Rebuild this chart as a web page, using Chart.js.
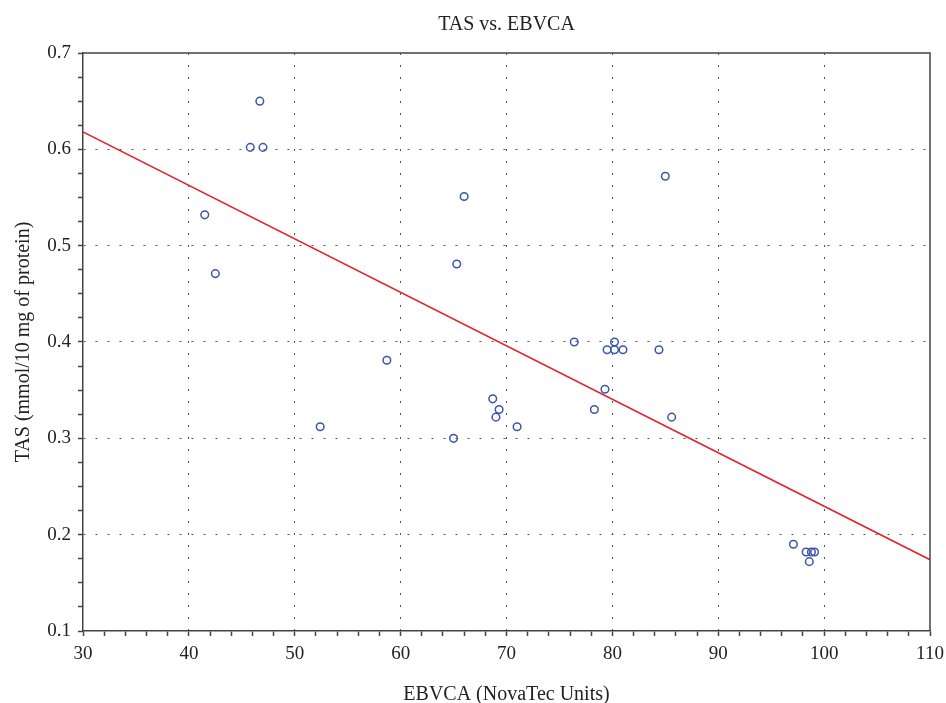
<!doctype html>
<html>
<head>
  <meta charset="utf-8">
  <title>TAS vs. EBVCA</title>
  <script src="https://cdn.jsdelivr.net/npm/chart.js@4"></script>
  <style>body{margin:0;background:#fff}canvas{display:block}</style>
</head>
<body>
  <canvas id="chart" width="946" height="703"></canvas>
  <script>
    // observed values (x = EBVCA, y = TAS)
    const ebvca = [46.7, 45.8, 47.0, 41.5, 42.5, 52.4, 58.7, 66.0, 65.3, 65.0, 68.7, 69.3, 69.0, 71.0, 76.4,
                   78.3, 79.3, 79.5, 80.2, 80.2, 81.0, 84.4, 85.0, 85.6, 97.1, 98.3, 98.8, 99.1, 98.6];
    const tas = [0.650, 0.602, 0.602, 0.532, 0.471, 0.312, 0.381, 0.551, 0.481, 0.300, 0.341, 0.330, 0.322, 0.312, 0.400,
                 0.330, 0.351, 0.392, 0.400, 0.392, 0.392, 0.392, 0.572, 0.322, 0.190, 0.182, 0.182, 0.182, 0.172];
    // regression line end points
    const fitX = [30, 110];
    const fitY = [0.618, 0.174];

    const xMajor = [30, 40, 50, 60, 70, 80, 90, 100, 110];
    const yMajor = [0.1, 0.2, 0.3, 0.4, 0.5, 0.6, 0.7];

    const serif = '"Liberation Serif", "DejaVu Serif", serif';
    const isMajor = (v, list) => list.some(m => Math.abs(m - v) < 1e-6);
    const inner = (v, list) => isMajor(v, list) && v !== list[0] && v !== list[list.length - 1];

    const frame = {
      id: 'frame',
      afterDraw(chart) {
        const {ctx, chartArea: a} = chart;
        ctx.save();
        ctx.strokeStyle = '#444';
        ctx.lineWidth = 1.5;
        ctx.beginPath();
        ctx.moveTo(a.left, a.top);
        ctx.lineTo(a.right, a.top);
        ctx.lineTo(a.right, a.bottom);
        ctx.stroke();
        ctx.restore();
      }
    };

    new Chart(document.getElementById('chart'), {
      type: 'scatter',
      data: {
        datasets: [{
          label: 'TAS',
          data: ebvca.map((x, i) => ({x, y: tas[i]})),
          showLine: false,
          pointStyle: 'circle',
          pointRadius: 3.8,
          pointBorderWidth: 1.5,
          pointBorderColor: '#3b55a8',
          pointBackgroundColor: 'rgba(0,0,0,0)',
          order: 1
        }, {
          label: 'Fit',
          type: 'line',
          data: fitX.map((x, i) => ({x, y: fitY[i]})),
          borderColor: '#e4222a',
          borderWidth: 1.5,
          pointRadius: 0,
          fill: false,
          order: 2
        }]
      },
      options: {
        responsive: false,
        animation: false,
        layout: { padding: { left: 0, right: 16, top: 0, bottom: 0 } },
        plugins: {
          legend: { display: false },
          tooltip: { enabled: false },
          title: {
            display: true,
            fullSize: false,
            text: 'TAS vs. EBVCA',
            color: '#222',
            font: { family: serif, size: 20, weight: 'normal', lineHeight: 1 },
            padding: { top: 15, bottom: 18 }
          }
        },
        scales: {
          x: {
            type: 'linear',
            min: 30, max: 110,
            afterFit(s) { s.height = 72; s.paddingRight = 0; s.paddingLeft = 0; },
            ticks: {
              stepSize: 2,
              autoSkip: false,
              maxRotation: 0,
              padding: 7,
              color: '#222',
              font: { family: serif, size: 19 },
              callback: v => isMajor(v, xMajor) ? String(v) : ''
            },
            grid: {
              drawTicks: true,
              tickLength: 5,
              lineWidth: 1,
              color: c => inner(c.tick.value, xMajor) ? '#555' : 'rgba(0,0,0,0)',
              tickColor: '#444',
              tickWidth: 1.5
            },
            border: { display: true, color: '#444', width: 1.5, dash: [2, 10] },
            title: {
              display: true,
              text: 'EBVCA (NovaTec Units)',
              color: '#222',
              font: { family: serif, size: 20, lineHeight: 1 },
              padding: { top: 0, bottom: -2 }
            }
          },
          y: {
            type: 'linear',
            min: 0.1, max: 0.7,
            afterFit(s) { s.width = 83; },
            ticks: {
              stepSize: 0.025,
              autoSkip: false,
              padding: 7,
              color: '#222',
              font: { family: serif, size: 19 },
              callback: v => isMajor(v, yMajor) ? (Math.round(v * 10) / 10).toFixed(1) : ''
            },
            grid: {
              drawTicks: true,
              tickLength: 5,
              lineWidth: 1,
              color: c => inner(c.tick.value, yMajor) ? '#555' : 'rgba(0,0,0,0)',
              tickColor: '#444',
              tickWidth: 1.5
            },
            border: { display: true, color: '#444', width: 1.5, dash: [2, 10] },
            title: {
              display: true,
              text: 'TAS (mmol/10 mg of protein)',
              color: '#222',
              font: { family: serif, size: 20, lineHeight: 1 },
              padding: { top: 14, bottom: 0 }
            }
          }
        }
      },
      plugins: [frame]
    });
  </script>
</body>
</html>
